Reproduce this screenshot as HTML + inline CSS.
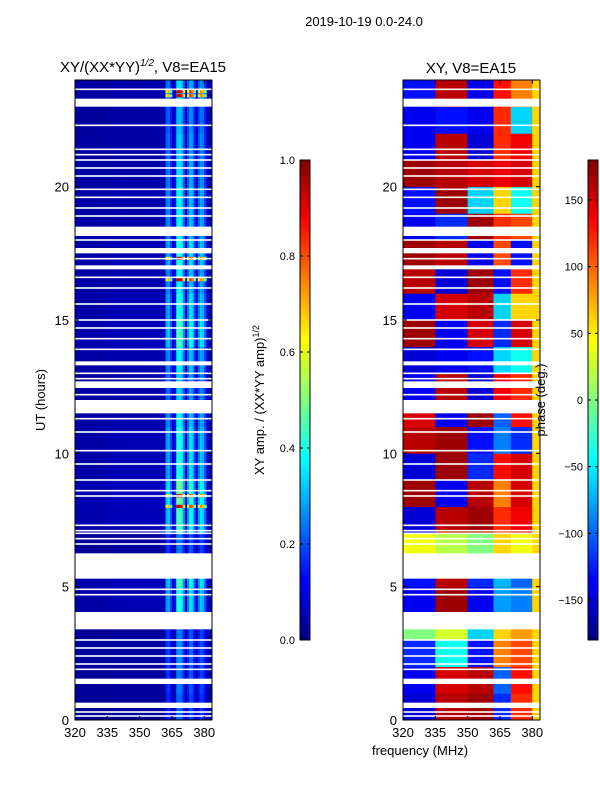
<!DOCTYPE html>
<html><head><meta charset="utf-8"><style>
body{margin:0;background:#fff;}
svg{display:block;font-family:"Liberation Sans",sans-serif;}
</style></head><body>
<svg id="fig" width="600" height="800" viewBox="0 0 600 800" xmlns="http://www.w3.org/2000/svg">
<rect width="600" height="800" fill="#fff"/>
<text x="364" y="26" font-size="13" text-anchor="middle">2019-10-19 0.0-24.0</text>
<text x="143" y="72" font-size="15" text-anchor="middle">XY/(XX*YY)<tspan font-size="10" dy="-6" font-style="italic">1/2</tspan><tspan dy="6">, V8=EA15</tspan></text>
<text x="471" y="73" font-size="15" text-anchor="middle">XY, V8=EA15</text>
<g id="leftPanel"></g>
<g id="rightPanel"></g>
<g id="axes"></g>
<text transform="translate(45,400) rotate(-90)" font-size="13" text-anchor="middle">UT (hours)</text>
<text x="420" y="755" font-size="13" text-anchor="middle">frequency (MHz)</text>
<text transform="translate(264,400) rotate(-90)" font-size="13" text-anchor="middle">XY amp. / (XX*YY amp)<tspan font-size="9" dy="-5">1/2</tspan></text>
<text transform="translate(545,400) rotate(-90)" font-size="13" text-anchor="middle">phase (deg.)</text>
</svg>
<script>
// ---- data ----
const freqStart = 320, freqEnd = 383.6;
const hourMin = 0, hourMax = 24;
const xTickLabels = [320, 335, 350, 365, 380];
const yTickLabels = [0, 5, 10, 15, 20];
const ampTicks = [0.0, 0.2, 0.4, 0.6, 0.8, 1.0];
const phaseTicks = [-150, -100, -50, 0, 50, 100, 150];
// amplitude per 1-MHz channel (320..383)
const ampChannel = [0.04,0.04,0.04,0.04,0.04,0.04,0.04,0.04,0.04,0.04,0.04,0.04,0.04,0.04,0.04,0.04,
 0.05,0.05,0.05,0.05,0.05,0.05,0.05,0.05,0.05,0.05,0.05,0.05,0.05,0.05,0.05,0.05,
 0.05,0.05,0.05,0.05,0.05,0.05,0.05,0.05,0.05,0.06,0.26,0.3,0.2,0.07,0.13,0.4,
 0.42,0.38,0.25,0.07,0.25,0.36,0.33,0.2,0.07,0.25,0.32,0.3,0.2,0.06,0.05,0.05];
// amplitude scale per hour (0..23)
const ampHourScale = [0.55,0.6,0.65,0.6,1.0,1.1,0.6,1.1,1.2,1.0,1.0,0.9,0.8,0.9,1.1,1.0,0.9,1.0,0.9,0.9,0.85,0.8,0.75,0.85];
// rows with strong (red) amplitude spikes, hours
const spikeHours = [23.5, 23.35, 17.25, 16.45, 7.95, 8.35];
const spikeValue = 0.92;
// phase per hour (rows 0..23) for frequency groups
const phaseGroups = [320, 335, 350, 362, 370, 380, 383.6];
const phaseGrid = [
 [-150,160,170,-120,120,60],[-140,150,160,-100,130,60],[-120,-40,-130,90,110,60],[0,30,-60,60,80,60],
 [-140,170,-140,-80,-90,60],[-130,160,-120,-70,-100,60],[40,20,0,60,40,60],[-150,160,170,120,140,60],
 [170,-140,160,90,150,60],[-150,170,-120,130,150,60],[160,170,-130,-90,-120,60],[150,-140,170,-100,130,60],
 [-140,160,-150,140,120,60],[-150,-140,-130,-60,-40,60],[170,-140,150,-120,150,60],[-140,150,160,-60,60,60],
 [160,-150,170,-130,120,60],[170,160,-140,110,-130,60],[-140,-120,170,120,110,60],[-130,170,-60,60,-40,60],
 [170,160,150,140,150,60],[-140,160,-150,120,140,60],[-140,-130,-140,120,-60,60],[-130,160,-140,130,90,60]];
// flagged (blank) intervals, hours
const blankStart = [23.0,18.15,17.5,16.9,13.3,12.45,11.5,5.3,3.4,1.35,0.45];
const blankEnd   = [23.3,18.5,17.7,17.05,13.45,12.7,12.0,6.25,4.05,1.55,0.65];
const thinBlanks = [23.65,22.3,21.4,21.2,21.0,20.7,20.4,19.9,19.6,19.2,18.9,18.0,17.3,16.6,16.2,15.6,15.0,14.7,14.3,13.9,13.0,12.8,12.2,11.3,10.8,10.1,9.6,9.0,8.6,8.4,7.3,7.1,7.0,6.8,6.6,4.9,4.7,3.0,2.7,2.4,2.1,1.9,0.3,0.15];

// ---- helpers ----
const NS = "http://www.w3.org/2000/svg";
function jet(v){v=Math.max(0,Math.min(1,v));
 const r=Math.min(4*v-1.5,-4*v+4.5),g=Math.min(4*v-0.5,-4*v+3.5),b=Math.min(4*v+0.5,-4*v+2.5);
 const c=x=>Math.round(255*Math.max(0,Math.min(1,x)));return `rgb(${c(r)},${c(g)},${c(b)})`;}
function mk(tag,attrs,parent){const e=document.createElementNS(NS,tag);for(const k in attrs)e.setAttribute(k,attrs[k]);parent.appendChild(e);return e;}
const panels=[{x0:75,x1:212,id:'leftPanel'},{x0:403,x1:540,id:'rightPanel'}];
const y0=720,y1=80;
function yScale(h){return y0-(h-hourMin)/(hourMax-hourMin)*(y0-y1);}
function xScale(p,f){return p.x0+(f-freqStart)/(freqEnd-freqStart)*(p.x1-p.x0);}

// left amplitude heatmap
(function(){const p=panels[0];const g=document.getElementById(p.id);
 for(let h=0;h<24;h++){for(let c=0;c<ampChannel.length;c++){
  let f=freqStart+c,fe=Math.min(freqEnd,f+1);
  let v=ampChannel[c]*ampHourScale[h];
  const r=mk('rect',{x:xScale(p,f),y:yScale(h+1),width:xScale(p,fe)-xScale(p,f)+0.4,height:yScale(h)-yScale(h+1)+0.4,fill:jet(v)},g);
  
  
 }}
 spikeHours.forEach(sh=>{for(let c=0;c<ampChannel.length;c++){if(ampChannel[c]<0.2)continue;
  const f=freqStart+c;
  const r=mk('rect',{x:xScale(p,f),y:yScale(sh+0.12),width:xScale(p,f+1)-xScale(p,f)+0.4,height:yScale(sh)-yScale(sh+0.12),fill:jet(spikeValue*ampChannel[c]/0.4)},g);
  
  
 }});
})();
// right phase heatmap
(function(){const p=panels[1];const g=document.getElementById(p.id);
 for(let h=0;h<24;h++){for(let k=0;k<phaseGroups.length-1;k++){
  const v=(phaseGrid[h][k]+180)/360;
  const r=mk('rect',{x:xScale(p,phaseGroups[k]),y:yScale(h+1),width:xScale(p,phaseGroups[k+1])-xScale(p,phaseGroups[k])+0.4,height:yScale(h)-yScale(h+1)+0.4,fill:jet(v)},g);
  
  
 }}
})();
// blanks
panels.forEach(p=>{const g=document.getElementById(p.id);
 blankStart.forEach((s,i)=>{const r=mk('rect',{x:p.x0,y:yScale(blankEnd[i]),width:p.x1-p.x0,height:yScale(s)-yScale(blankEnd[i]),fill:'#fff'},g);
  
  });
 thinBlanks.forEach(t=>{const r=mk('rect',{x:p.x0,y:yScale(t)-0.8,width:p.x1-p.x0,height:1.6,fill:'#fff'},g);
  
  });
});
// axes
const ax=document.getElementById('axes');
panels.forEach((p,pi)=>{
 const fr=mk('rect',{x:p.x0,y:y1,width:p.x1-p.x0,height:y0-y1,fill:'none',stroke:'#000','stroke-width':1},ax);
 
 
 xTickLabels.forEach(t=>{const x=xScale(p,t);
  mk('line',{x1:x,x2:x,y1:y0,y2:y0-4,stroke:'#000'},ax);mk('line',{x1:x,x2:x,y1:y1,y2:y1+4,stroke:'#000'},ax);
  const tx=mk('text',{x:x,y:y0+17,'font-size':13,'text-anchor':'middle'},ax);tx.textContent=t;
  
  });
 yTickLabels.forEach(t=>{const y=yScale(t);
  mk('line',{x1:p.x0,x2:p.x0+4,y1:y,y2:y,stroke:'#000'},ax);mk('line',{x1:p.x1,x2:p.x1-4,y1:y,y2:y,stroke:'#000'},ax);
  const tx=mk('text',{x:p.x0-6,y:y+5,'font-size':13,'text-anchor':'end'},ax);tx.textContent=t;
  
  });
});
// colorbars
function colorbar(x,ticks,vmin,vmax,name,fmt){
 const top=160,bot=640,w=10;
 for(let i=0;i<120;i++){const v=i/120;
  mk('rect',{x:x,y:bot-(i+1)*4,width:w,height:4.4,fill:jet(v+0.5/120)},ax);}
 const f=mk('rect',{x:x,y:top,width:w,height:bot-top,fill:'none',stroke:'#000'},ax);
 
 
 ticks.forEach(t=>{const y=bot-(t-vmin)/(vmax-vmin)*(bot-top);
  mk('line',{x1:x,x2:x+3,y1:y,y2:y,stroke:'#000'},ax);mk('line',{x1:x+w,x2:x+w-3,y1:y,y2:y,stroke:'#000'},ax);
  const tx=mk('text',{x:x-5,y:y+4,'font-size':11,'text-anchor':'end'},ax);tx.textContent=fmt(t);
  
  });
}
colorbar(300,ampTicks,0,1,'amp-colorbar',t=>t.toFixed(1));
colorbar(588,phaseTicks,-180,180,'phase-colorbar',t=>t<0?'\u2212'+(-t):''+t);
</script>
</body></html>
